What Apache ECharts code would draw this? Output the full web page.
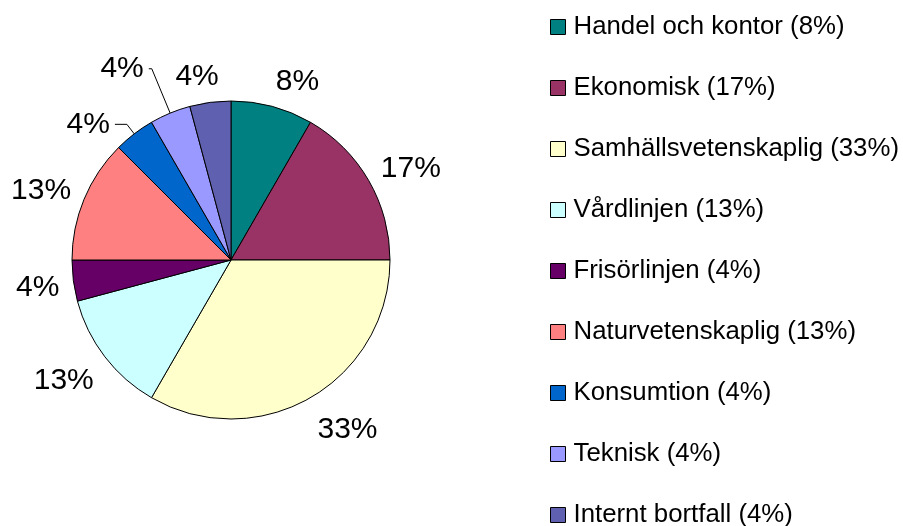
<!DOCTYPE html>
<html>
<head>
<meta charset="utf-8">
<script src="https://cdn.jsdelivr.net/npm/echarts@6/dist/echarts.min.js"></script>
<style>html,body{margin:0;padding:0;background:#fff}#c{width:903px;height:526px}</style>
</head>
<body>
<div id="c"></div>
<script>
const categories = ['Handel och kontor', 'Ekonomisk', 'Samhällsvetenskaplig', 'Vårdlinjen', 'Frisörlinjen', 'Naturvetenskaplig', 'Konsumtion', 'Teknisk', 'Internt bortfall'];
const counts = [2, 4, 8, 3, 1, 3, 1, 1, 1];
const percentLabels = ['8%', '17%', '33%', '13%', '4%', '13%', '4%', '4%', '4%'];
const colors = ['#008080', '#993366', '#FFFFCC', '#CCFFFF', '#660066', '#FF8080', '#0066CC', '#9999FF', '#6060B0'];

// layout settings (not data)
const CX = 231, CY = 260, R = 159;
const leaderItems = { 'Konsumtion': { length: 12, length2: 12 }, 'Teknisk': { length: 48, length2: 3 } };

const legendNames = categories.map((c, i) => c + ' (' + percentLabels[i] + ')');
const total = counts.reduce((a, b) => a + b, 0);
const midAngles = [];
{
  let acc = 0;
  counts.forEach(v => { midAngles.push((acc + v / 2) / total * 2 * Math.PI); acc += v; });
}

const data = categories.map((c, i) => {
  const d = { name: legendNames[i], value: counts[i], itemStyle: { color: colors[i] } };
  if (leaderItems[c]) {
    d.labelLine = { show: true, length: leaderItems[c].length, length2: leaderItems[c].length2 };
  }
  return d;
});

const chart = echarts.init(document.getElementById('c'), null, { renderer: 'canvas' });
chart.setOption({
  animation: false,
  backgroundColor: '#fff',
  legend: {
    orient: 'vertical',
    left: 550,
    top: 14,
    height: 520,
    padding: 0,
    itemWidth: 15,
    itemHeight: 15,
    itemGap: 35,
    icon: 'rect',
    itemStyle: { borderColor: '#000', borderWidth: 1 },
    textStyle: { fontFamily: 'Liberation Sans, Arial', fontSize: 25.8, color: '#000', padding: [0, 0, 0, 3] },
    data: legendNames
  },
  series: [{
    type: 'pie',
    center: [CX, CY],
    radius: R,
    startAngle: 90,
    clockwise: true,
    avoidLabelOverlap: false,
    itemStyle: { borderColor: '#000', borderWidth: 1 },
    emphasis: { disabled: true },
    label: {
      show: true,
      position: 'outside',
      formatter: (p) => percentLabels[p.dataIndex],
      fontFamily: 'Liberation Sans, Arial',
      fontSize: 30,
      color: '#000',
      distanceToLabelLine: 5
    },
    labelLine: { show: false, lineStyle: { color: '#000', width: 1 } },
    labelLayout: function (params) {
      const i = params.dataIndex;
      if (leaderItems[categories[i]]) return {};
      const th = midAngles[i];
      const s = Math.sin(th), c = Math.cos(th);
      const w = params.labelRect.width;
      const h = c < 0 ? 40 : 30;
      const fx = Math.min(1, 4 * Math.abs(s)) * Math.sign(s);
      const rr = R + 14;
      return {
        x: CX + rr * s + fx * w / 2,
        y: CY - rr * c - c * h / 2 + 3,
        align: 'center',
        verticalAlign: 'middle'
      };
    },
    data: data
  }]
});
</script>
</body>
</html>
